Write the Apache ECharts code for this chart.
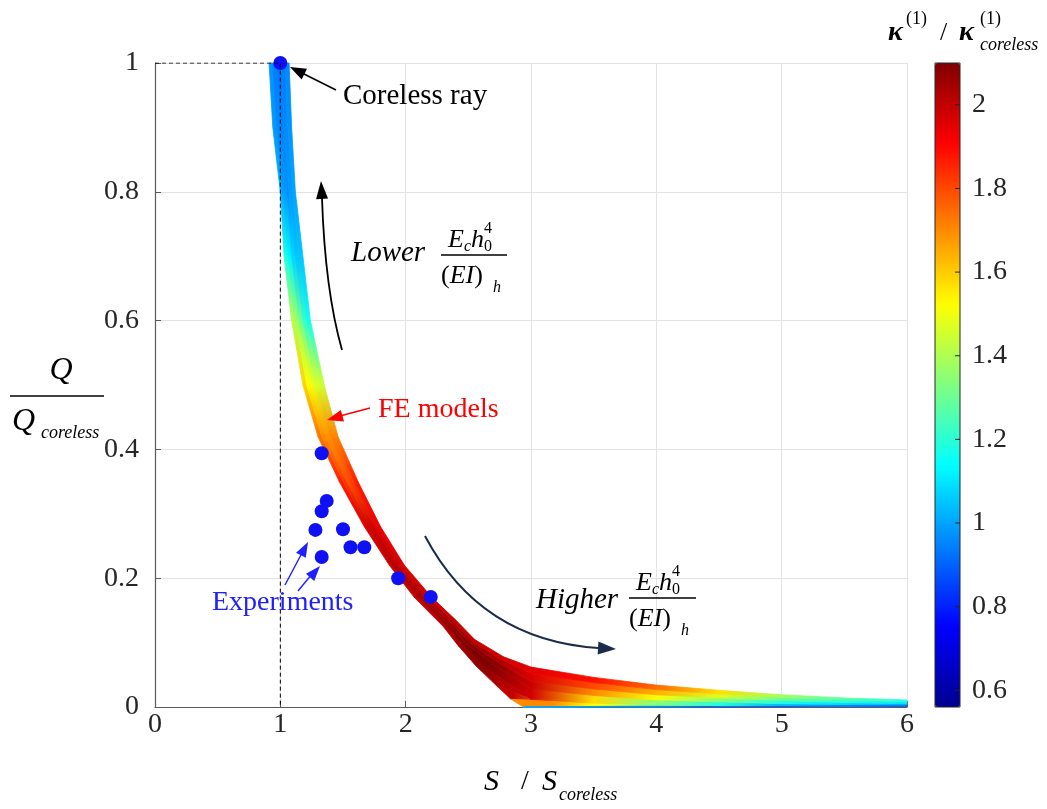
<!DOCTYPE html>
<html>
<head>
<meta charset="utf-8">
<script src="https://cdn.jsdelivr.net/npm/echarts@6/dist/echarts.min.js"></script>
<style>
html, body { margin: 0; padding: 0; background: #fff; }
#container { width: 1047px; height: 809px; }
</style>
</head>
<body>
<div id="container"></div>
<script>
// FE model mesh, one curve per row: [S/S_coreless, Q/Q_coreless, kappa ratio]
var feCurve0 = [[0.91,1.00,1.00],[0.94,0.90,1.00],[1.00,0.80,1.03],[1.03,0.70,1.20],[1.09,0.60,1.42],[1.18,0.50,1.62],
    [1.30,0.42,1.75],[1.47,0.35,1.88],[1.67,0.28,1.95],[1.87,0.22,1.97],[2.07,0.17,1.97],[2.30,0.125,1.98],
    [2.42,0.095,2.00],[2.56,0.064,2.05],[2.72,0.034,2.05],[2.84,0.012,1.90],[2.94,0.0,1.80],
    [2.94,0.0,1.50],[2.94,0.0,1.20],[2.94,0.0,1.00],[2.94,0.0,0.90]];
var feCurve1 = [[0.94,1.00,0.95],[0.97,0.90,0.97],[1.02,0.80,1.00],[1.06,0.70,1.15],[1.12,0.60,1.40],[1.21,0.50,1.55],
    [1.33,0.42,1.72],[1.50,0.35,1.85],[1.70,0.28,1.97],[1.89,0.22,2.00],[2.10,0.17,2.02],[2.32,0.127,2.05],
    [2.46,0.096,2.10],[2.64,0.061,2.10],[3.00,0.012,1.95],[3.50,0.006,1.50],[4.00,0.003,1.25],
    [4.50,0.002,1.10],[5.00,0.002,0.95],[5.50,0.001,0.90],[6.00,0.001,0.85]];
var feCurve2 = [[0.97,1.00,0.93],[1.00,0.90,0.95],[1.05,0.80,0.97],[1.09,0.70,1.10],[1.15,0.60,1.35],[1.25,0.50,1.50],
    [1.36,0.42,1.68],[1.53,0.35,1.80],[1.72,0.28,2.00],[1.92,0.22,2.03],[2.13,0.17,2.05],[2.34,0.129,2.08],
    [2.49,0.098,2.10],[2.69,0.067,2.10],[3.00,0.028,2.00],[3.50,0.018,1.65],[4.00,0.011,1.45],
    [4.50,0.008,1.28],[5.00,0.005,1.10],[5.50,0.004,1.02],[6.00,0.003,0.95]];
var feCurve3 = [[1.01,1.00,0.93],[1.03,0.90,0.95],[1.07,0.80,0.97],[1.12,0.70,1.05],[1.18,0.60,1.25],[1.28,0.50,1.48],
    [1.40,0.42,1.70],[1.56,0.35,1.78],[1.75,0.28,1.97],[1.94,0.22,2.00],[2.15,0.17,2.03],[2.36,0.131,2.06],
    [2.51,0.100,2.08],[2.72,0.071,2.08],[3.00,0.040,1.98],[3.50,0.028,1.75],[4.00,0.019,1.58],
    [4.50,0.014,1.42],[5.00,0.010,1.25],[5.50,0.007,1.15],[6.00,0.005,1.05]];
var feCurve4 = [[1.04,1.00,0.95],[1.06,0.90,0.97],[1.10,0.80,1.00],[1.15,0.70,1.05],[1.21,0.60,1.18],[1.32,0.50,1.45],
    [1.43,0.42,1.72],[1.59,0.35,1.85],[1.77,0.28,1.95],[1.97,0.22,1.97],[2.18,0.17,2.00],[2.38,0.133,2.02],
    [2.53,0.102,2.03],[2.75,0.075,2.00],[3.00,0.052,1.95],[3.50,0.038,1.85],[4.00,0.027,1.70],
    [4.50,0.020,1.52],[5.00,0.015,1.35],[5.50,0.011,1.25],[6.00,0.008,1.15]];
var feCurve5 = [[1.07,1.00,0.97],[1.09,0.90,0.98],[1.12,0.80,1.00],[1.18,0.70,1.05],[1.24,0.60,1.15],[1.35,0.50,1.45],
    [1.46,0.42,1.70],[1.62,0.35,1.88],[1.80,0.28,1.93],[1.99,0.22,1.95],[2.21,0.17,1.96],[2.40,0.135,1.97],
    [2.55,0.105,1.97],[2.78,0.078,1.96],[3.00,0.062,1.95],[3.50,0.046,1.92],[4.00,0.034,1.80],
    [4.50,0.026,1.62],[5.00,0.019,1.42],[5.50,0.014,1.30],[6.00,0.011,1.22]];

var experiments = [[1.33,0.394],[1.37,0.320],[1.33,0.304],[1.28,0.275],[1.50,0.276],
    [1.56,0.248],[1.67,0.248],[1.33,0.233],[1.94,0.200],[2.20,0.171]];
var corelessRay = [[1, 1]];
var guideLine = [[0, 1], [1, 1], [1, 0]];
var colorTicks = [0.6, 0.8, 1, 1.2, 1.4, 1.6, 1.8, 2];
var kappaRange = [0.56, 2.1];
var jet = ['#00008F','#0000FF','#0080FF','#00FFFF','#80FF80','#FFFF00','#FF8000','#FF0000','#800000'];

// build quad cells between neighbouring curves
// cell = [x1,y1,x2,y2,x3,y3,x4,y4, mean kappa, kappa at start edge, kappa at end edge]
var feCurves = [feCurve0, feCurve1, feCurve2, feCurve3, feCurve4, feCurve5];
var feCells = [];
for (var c = 0; c < feCurves.length - 1; c++) {
    var a = feCurves[c], b = feCurves[c + 1];
    for (var j = 0; j < a.length - 1; j++) {
        var k0 = (a[j][2] + b[j][2]) / 2, k1 = (a[j + 1][2] + b[j + 1][2]) / 2;
        feCells.push([a[j][0], a[j][1], a[j + 1][0], a[j + 1][1], b[j + 1][0], b[j + 1][1], b[j][0], b[j][1],
            (k0 + k1) / 2, k0, k1]);
    }
}

var serif = 'Liberation Serif';
var txtColor = '#262626';

function kColor(k) {
    return echarts.color.lerp((k - kappaRange[0]) / (kappaRange[1] - kappaRange[0]), jet);
}
function txt(x, y, s, size, opt) {
    opt = opt || {};
    return {
        type: 'text', x: x, y: y, z: 100,
        style: {
            text: s, fontFamily: serif, fontSize: size,
            fontStyle: opt.italic ? 'italic' : 'normal',
            fontWeight: opt.bold ? 'bold' : 'normal',
            fill: opt.color || '#000',
            align: opt.align || 'left', verticalAlign: 'middle',
            rich: opt.rich
        }
    };
}
function seg(x1, y1, x2, y2, color, w) {
    return { type: 'line', z: 100, shape: { x1: x1, y1: y1, x2: x2, y2: y2 }, style: { stroke: color, lineWidth: w || 1.3 } };
}
function head(tx, ty, fx, fy, color, len, hw) {
    len = len || 14; hw = hw || 5;
    var dx = tx - fx, dy = ty - fy, d = Math.sqrt(dx * dx + dy * dy);
    var ux = dx / d, uy = dy / d;
    var bx = tx - ux * len, by = ty - uy * len;
    return { type: 'polygon', z: 100, shape: { points: [[tx, ty], [bx - uy * hw, by + ux * hw], [bx + uy * hw, by - ux * hw]] },
        style: { fill: color } };
}
function frac(x, y, barW) {
    // E_c h_0^4 / (EI)_h
    var it = { italic: true };
    return [
        txt(x + 7, y, 'E', 26, it),
        txt(x + 23, y + 7, 'c', 16, it),
        txt(x + 30, y, 'h', 26, it),
        txt(x + 43, y + 7, '0', 16),
        txt(x + 43, y - 11, '4', 16),
        seg(x, y + 15, x + barW, y + 15, '#000', 1.3),
        txt(x, y + 36, '{u|(}{i|EI}{u|)}', 26, { rich: {
            u: { fontFamily: serif, fontSize: 26, fill: '#000' },
            i: { fontFamily: serif, fontSize: 26, fontStyle: 'italic', fill: '#000' } } }),
        txt(x + 52, y + 48, 'h', 16, it)
    ];
}

function renderCell(params, api) {
    var pts = [];
    for (var i = 0; i < 4; i++) {
        pts.push(api.coord([api.value(2 * i), api.value(2 * i + 1)]));
    }
    var s = [(pts[0][0] + pts[3][0]) / 2, (pts[0][1] + pts[3][1]) / 2];
    var e = [(pts[1][0] + pts[2][0]) / 2, (pts[1][1] + pts[2][1]) / 2];
    if (Math.abs(e[0] - s[0]) + Math.abs(e[1] - s[1]) < 0.5) { e = [s[0] + 0.5, s[1]]; }
    var grad = new echarts.graphic.LinearGradient(s[0], s[1], e[0], e[1], [
        { offset: 0, color: kColor(api.value(9)) },
        { offset: 1, color: kColor(api.value(10)) }
    ], true);
    return { type: 'polygon', shape: { points: pts }, style: { fill: grad, stroke: grad, lineWidth: 0.8 } };
}
// colour bar ticks: short marks on the inner right edge
function renderColorTick(params, api) {
    var p = api.coord([1, api.value(0)]);
    return { type: 'line', shape: { x1: p[0] - 5, y1: p[1], x2: p[0], y2: p[1] },
        style: { stroke: '#262626', lineWidth: 1 } };
}

var graphics = [
    txt(343, 96, 'Coreless ray', 29),
    seg(336, 90, 300, 72, '#000', 1.4), head(290, 67, 336, 90, '#000', 16, 6),
    txt(351, 253, 'Lower', 29, { italic: true }),
    { type: 'bezierCurve', z: 100, shape: { x1: 342, y1: 350, cpx1: 325, cpy1: 290, x2: 322, y2: 198 },
        style: { stroke: '#000', lineWidth: 1.8, fill: null } },
    head(321, 181, 322, 198, '#000', 18, 6),
    txt(378, 410, 'FE models', 28, { color: '#ff0000' }),
    seg(370, 408, 340, 416, '#ff0000', 1.5), head(327, 420, 370, 408, '#ff0000', 16, 6),
    txt(212, 603, 'Experiments', 28, { color: '#2020ff' }),
    seg(285, 585, 302, 553, '#2020ff', 1.4), head(308, 542, 285, 585, '#2020ff', 15, 5.5),
    seg(298, 591, 312, 574, '#2020ff', 1.4), head(320, 566, 298, 591, '#2020ff', 15, 5.5),
    txt(536, 600, 'Higher', 29, { italic: true }),
    { type: 'bezierCurve', z: 100, shape: { x1: 425, y1: 536, cpx1: 480, cpy1: 640, x2: 598, y2: 648 },
        style: { stroke: '#1c2b4b', lineWidth: 2, fill: null } },
    head(616, 649, 598, 648, '#1c2b4b', 18, 6.5),
    // colorbar title
    txt(888, 33, 'κ', 28, { italic: true, bold: true }),
    txt(906, 19, '(1)', 18),
    txt(940, 33, '/', 26),
    txt(959, 33, 'κ', 28, { italic: true, bold: true }),
    txt(980, 19, '(1)', 18),
    txt(980, 45, 'coreless', 18, { italic: true }),
    // y axis title
    txt(61, 371, 'Q', 32, { italic: true, align: 'center' }),
    seg(10, 396, 104, 396, '#000', 1.4),
    txt(12, 422, 'Q', 32, { italic: true }),
    txt(41, 433, 'coreless', 18, { italic: true }),
    // x axis title
    txt(484, 782, 'S', 30, { italic: true }),
    txt(521, 782, '/', 28),
    txt(542, 782, 'S', 30, { italic: true }),
    txt(559, 795, 'coreless', 18, { italic: true }),
    // colorbar frame
    { type: 'rect', z: 100, shape: { x: 935, y: 63, width: 25, height: 644 },
        style: { fill: null, stroke: '#262626', lineWidth: 1 } }
].concat(frac(441, 240, 66), frac(629, 583, 67));

var dom = document.getElementById('container');
var myChart = echarts.init(dom);
var option = {
    animation: false,
    backgroundColor: '#fff',
    grid: [
        { left: 155, top: 63, width: 752, height: 644 },
        { left: 935, top: 63, width: 25, height: 644 }
    ],
    xAxis: [{
        type: 'value', gridIndex: 0, min: 0, max: 6, interval: 1,
        axisLine: { onZero: false, lineStyle: { color: '#5a5a5a', width: 1.2 } },
        axisTick: { inside: true, length: 6, lineStyle: { color: '#5a5a5a' } },
        splitLine: { show: true, lineStyle: { color: '#e3e3e3' } },
        axisLabel: { fontFamily: serif, fontSize: 28, color: txtColor, margin: 4 }
    }, {
        type: 'value', gridIndex: 1, min: 0, max: 1, show: false
    }],
    yAxis: [{
        type: 'value', gridIndex: 0, min: 0, max: 1, interval: 0.2,
        axisLine: { show: true, onZero: false, lineStyle: { color: '#5a5a5a', width: 1.2 } },
        axisTick: { show: true, inside: true, length: 6, lineStyle: { color: '#5a5a5a' } },
        splitLine: { show: true, lineStyle: { color: '#e3e3e3' } },
        axisLabel: { fontFamily: serif, fontSize: 28, color: txtColor, margin: 16 }
    }, {
        type: 'value', gridIndex: 1, position: 'right', min: kappaRange[0], max: kappaRange[1],
        axisLine: { show: false },
        axisTick: { show: false },
        splitLine: { show: false },
        axisLabel: { fontFamily: serif, fontSize: 28, color: txtColor, margin: 12, customValues: colorTicks }
    }],
    visualMap: {
        type: 'continuous', show: true, seriesIndex: 0, dimension: 8,
        min: kappaRange[0], max: kappaRange[1],
        calculable: false, orient: 'vertical',
        left: 935, top: 63, itemWidth: 25, itemHeight: 644, padding: 0,
        text: null, showLabel: false, hoverLink: false,
        inRange: { color: jet }
    },
    series: [{
        name: 'FE models',
        type: 'custom',
        xAxisIndex: 0, yAxisIndex: 0,
        renderItem: renderCell,
        encode: { x: [0, 2, 4, 6], y: [1, 3, 5, 7] },
        data: feCells,
        silent: true
    }, {
        type: 'line',
        data: guideLine,
        symbol: 'none',
        lineStyle: { color: '#000', width: 1, type: [4, 3] },
        silent: true
    }, {
        name: 'Experiments',
        type: 'scatter',
        data: experiments,
        symbolSize: 14,
        itemStyle: { color: '#1010f5', opacity: 1 }
    }, {
        name: 'Coreless ray',
        type: 'scatter',
        data: corelessRay,
        symbolSize: 14,
        itemStyle: { color: '#1010f5', opacity: 1 }
    }, {
        type: 'custom',
        xAxisIndex: 1, yAxisIndex: 1,
        renderItem: renderColorTick,
        encode: { y: 0 },
        data: colorTicks,
        z: 10,
        silent: true
    }],
    graphic: graphics
};
myChart.setOption(option);
</script>
</body>
</html>
